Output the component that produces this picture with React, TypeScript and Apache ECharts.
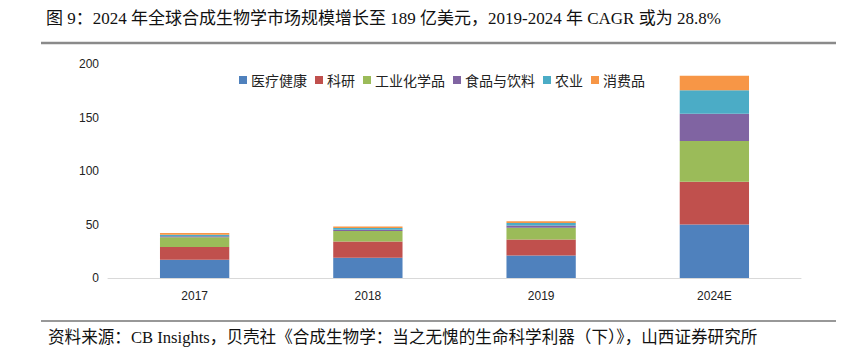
import React, { useEffect, useRef } from "react";
import * as echarts from "echarts";

const categories = ["2017", "2018", "2019", "2024E"];
const seriesNames = ["医疗健康", "科研", "工业化学品", "食品与饮料", "农业", "消费品"];
const healthcare = [17, 19, 21, 50];
const research = [12, 15, 15, 40];
const industrialChem = [9, 10, 11, 38];
const foodBeverage = [1, 1.2, 2, 25.5];
const agriculture = [1.5, 1.5, 2.5, 22];
const consumer = [1.5, 1.5, 1.5, 13.5];
const yTicks = [0, 50, 100, 150, 200];
const colors = ["#4F81BD", "#C0504D", "#9BBB59", "#8064A2", "#4BACC6", "#F79646"];

const titleText = "图 9：2024 年全球合成生物学市场规模增长至 189 亿美元，2019-2024 年 CAGR 或为 28.8%";
const sourceText = "资料来源：CB Insights，贝壳社《合成生物学：当之无愧的生命科学利器（下）》，山西证券研究所";

export default function App() {
  const ref = useRef<HTMLDivElement>(null);
  useEffect(() => {
    if (!ref.current) return;
    const chart = echarts.init(ref.current, undefined, { renderer: "svg" });
    const values = [healthcare, research, industrialChem, foodBeverage, agriculture, consumer];
    chart.setOption({
      animation: false,
      backgroundColor: "#ffffff",
      grid: { left: 108, right: 50, top: 64, bottom: 73, containLabel: false },
      legend: {
        left: 234,
        top: 68,
        itemWidth: 8,
        itemHeight: 8,
        itemGap: 8,
        icon: "rect",
        textStyle: { fontSize: 14, color: "#222", fontFamily: "Noto Sans CJK SC", padding: [0, 0, 0, -1] },
        data: seriesNames,
      },
      xAxis: {
        type: "category",
        data: categories,
        axisLine: { lineStyle: { color: "#d9d9d9", width: 1 } },
        axisTick: { show: false },
        axisLabel: { color: "#222", fontSize: 12, fontFamily: "Liberation Sans", margin: 12 },
      },
      yAxis: {
        type: "value",
        min: yTicks[0],
        max: yTicks[yTicks.length - 1],
        interval: 50,
        splitLine: { show: false },
        axisLine: { show: false },
        axisTick: { show: false },
        axisLabel: { color: "#222", fontSize: 12, fontFamily: "Liberation Sans", margin: 9 },
      },
      series: seriesNames.map((name, i) => ({
        name,
        type: "bar",
        stack: "total",
        barWidth: "40%",
        data: values[i],
        itemStyle: { color: colors[i] },
      })),
      graphic: [
        {
          type: "text",
          left: 46,
          top: 10,
          style: {
            text: titleText,
            fontSize: 17,
            fill: "#111",
            fontFamily: "Liberation Serif, Noto Sans CJK SC",
          },
        },
        {
          type: "line",
          shape: { x1: 41, y1: 43, x2: 836, y2: 43 },
          style: { stroke: "#8a8a8a", lineWidth: 2.5 },
        },
        {
          type: "line",
          shape: { x1: 41, y1: 321, x2: 836, y2: 321 },
          style: { stroke: "#333", lineWidth: 1.2 },
        },
        {
          type: "text",
          left: 48,
          top: 329,
          style: {
            text: sourceText,
            fontSize: 16.6,
            fill: "#111",
            fontFamily: "Liberation Serif, Noto Sans CJK SC",
          },
        },
      ],
    });
    return () => chart.dispose();
  }, []);
  return (
    <div
      ref={ref}
      style={{ position: "absolute", left: 0, top: 0, width: 851, height: 351 }}
    />
  );
}
